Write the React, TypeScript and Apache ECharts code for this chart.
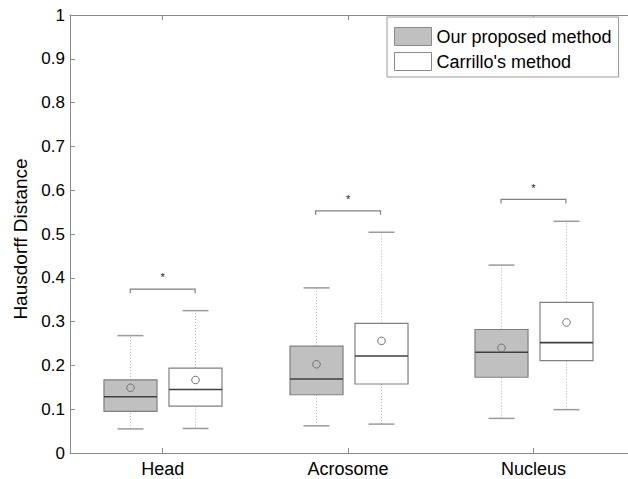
import React, { useEffect, useRef } from "react";
import * as echarts from "echarts";

const categories = ["Head", "Acrosome", "Nucleus"];
// [lower whisker, Q1, median, Q3, upper whisker]
const proposedStats = [
  [0.055, 0.095, 0.1285, 0.167, 0.268],
  [0.062, 0.133, 0.169, 0.244, 0.377],
  [0.079, 0.173, 0.23, 0.282, 0.429],
];
const proposedMean = [0.149, 0.2025, 0.24];
const carrilloStats = [
  [0.056, 0.107, 0.145, 0.194, 0.325],
  [0.066, 0.1575, 0.2215, 0.296, 0.504],
  [0.099, 0.211, 0.252, 0.344, 0.529],
];
const carrilloMean = [0.1667, 0.256, 0.298];
const bracketY = [0.374, 0.553, 0.579];
const starY = [0.409, 0.587, 0.613];
const yTicks = [0, 0.1, 0.2, 0.3, 0.4, 0.5, 0.6, 0.7, 0.8, 0.9, 1];

const seriesNames = ["Our proposed method", "Carrillo's method"];
const OFFSET = 0.175;
const BOX_W = 0.286;
const CAP_W = 0.14;
const FONT = "'Liberation Sans', Arial, Helvetica, sans-serif";

function boxRender(fill: string) {
  return (params: any, api: any) => {
    const x = api.value(0);
    const lo = api.coord([x, api.value(1)]);
    const q1 = api.coord([x, api.value(2)]);
    const md = api.coord([x, api.value(3)]);
    const q3 = api.coord([x, api.value(4)]);
    const hi = api.coord([x, api.value(5)]);
    const mn = api.coord([x, api.value(6)]);
    const halfBox = api.size([BOX_W, 0])[0] / 2;
    const halfCap = api.size([CAP_W, 0])[0] / 2;
    const cx = Math.round(lo[0]) + 0.5;
    const whiskerStyle = { stroke: "#b0b0b0", lineWidth: 1, lineDash: [1, 2] };
    const capStyle = { stroke: "#9a9a9a", lineWidth: 1.5 };
    return {
      type: "group",
      children: [
        { type: "line", shape: { x1: cx, y1: q3[1], x2: cx, y2: hi[1] }, style: whiskerStyle },
        { type: "line", shape: { x1: cx, y1: lo[1], x2: cx, y2: q1[1] }, style: whiskerStyle },
        { type: "line", shape: { x1: cx - halfCap, y1: hi[1], x2: cx + halfCap, y2: hi[1] }, style: capStyle },
        { type: "line", shape: { x1: cx - halfCap, y1: lo[1], x2: cx + halfCap, y2: lo[1] }, style: capStyle },
        {
          type: "rect",
          shape: { x: cx - halfBox, y: q3[1], width: halfBox * 2, height: q1[1] - q3[1] },
          style: { fill, stroke: "#808080", lineWidth: 1.2 },
        },
        {
          type: "line",
          shape: { x1: cx - halfBox, y1: md[1], x2: cx + halfBox, y2: md[1] },
          style: { stroke: "#404040", lineWidth: 1.6 },
        },
        {
          type: "circle",
          shape: { cx, cy: mn[1], r: 3.8 },
          style: { fill: "none", stroke: "#707070", lineWidth: 1 },
        },
      ],
    };
  };
}

function bracketRender(params: any, api: any) {
  const x = api.value(0);
  const y = api.value(1);
  const s = api.value(2);
  const a = api.coord([x - OFFSET, y]);
  const b = api.coord([x + OFFSET, y]);
  const st = api.coord([x, s]);
  return {
    type: "group",
    children: [
      {
        type: "polyline",
        shape: {
          points: [
            [a[0], a[1] + 4],
            [a[0], a[1]],
            [b[0], b[1]],
            [b[0], b[1] + 4],
          ],
        },
        style: { stroke: "#808080", lineWidth: 1.2, fill: "none" },
      },
      {
        type: "text",
        x: st[0],
        y: st[1] + 3,
        style: {
          text: "*",
          fontSize: 11,
          fontFamily: FONT,
          fill: "#222222",
          align: "center",
          verticalAlign: "middle",
        },
      },
    ],
  };
}

export default function App() {
  const ref = useRef<HTMLDivElement>(null);
  useEffect(() => {
    if (!ref.current) return;
    const chart = echarts.init(ref.current, null, { renderer: "svg" });
    const propData = proposedStats.map((s, i) => [i + 1 - OFFSET, ...s, proposedMean[i]]);
    const carData = carrilloStats.map((s, i) => [i + 1 + OFFSET, ...s, carrilloMean[i]]);
    const brData = categories.map((_, i) => [i + 1, bracketY[i], starY[i]]);
    const axisColor = "#8c8c8c";
    chart.setOption({
      animation: false,
      backgroundColor: "#fff",
      grid: { left: 70, right: 0, top: 15, bottom: 26, containLabel: false },
      legend: {
        orient: "vertical",
        left: 387,
        top: 17,
        padding: [10, 7, 6, 7],
        itemWidth: 37,
        itemHeight: 18,
        itemGap: 6,
        backgroundColor: "#fff",
        borderColor: "#9a9a9a",
        borderWidth: 1,
        borderRadius: 0,
        selectedMode: false,
        textStyle: { fontSize: 18, color: "#000", fontFamily: FONT, lineHeight: 18 },
        data: [
          { name: seriesNames[0], icon: "rect", itemStyle: { color: "#c0c0c0", borderColor: "#8a8a8a", borderWidth: 1 } },
          { name: seriesNames[1], icon: "rect", itemStyle: { color: "#ffffff", borderColor: "#8a8a8a", borderWidth: 1 } },
        ],
      },
      xAxis: [
        {
          type: "value",
          min: 0.5,
          max: 3.51,
          position: "bottom",
          splitLine: { show: false },
          axisLine: { show: true, lineStyle: { color: axisColor, width: 1 } },
          axisTick: { show: true, inside: true, length: 5, customValues: [1, 2, 3], lineStyle: { color: axisColor } },
          axisLabel: {
            customValues: [1, 2, 3],
            formatter: (v: number) => categories[Math.round(v) - 1],
            fontSize: 18,
            color: "#000",
            fontFamily: FONT,
            margin: 7,
          },
        },
        {
          type: "value",
          min: 0.5,
          max: 3.51,
          position: "top",
          splitLine: { show: false },
          axisLine: { show: true, lineStyle: { color: axisColor, width: 1 } },
          axisTick: { show: true, inside: true, length: 5, customValues: [1, 2, 3], lineStyle: { color: axisColor } },
          axisLabel: { show: false },
        },
      ],
      yAxis: {
        type: "value",
        min: 0,
        max: 1,
        interval: 0.1,
        name: "Hausdorff Distance",
        nameLocation: "middle",
        nameRotate: 90,
        nameGap: 33,
        nameTextStyle: { fontSize: 19, color: "#000", fontFamily: FONT, padding: [0, 0, 0, -10] },
        splitLine: { show: false },
        axisLine: { show: true, lineStyle: { color: axisColor, width: 1 } },
        axisTick: { show: true, inside: true, length: 5, lineStyle: { color: axisColor } },
        axisLabel: {
          customValues: yTicks,
          formatter: (v: number) => String(Math.round(v * 10) / 10),
          fontSize: 17,
          color: "#000",
          fontFamily: FONT,
          margin: 5,
        },
      },
      series: [
        {
          name: seriesNames[0],
          type: "custom",
          renderItem: boxRender("#c0c0c0"),
          encode: { x: 0, y: [1, 2, 3, 4, 5, 6] },
          data: propData,
          z: 2,
        },
        {
          name: seriesNames[1],
          type: "custom",
          renderItem: boxRender("#ffffff"),
          encode: { x: 0, y: [1, 2, 3, 4, 5, 6] },
          data: carData,
          z: 2,
        },
        {
          name: "significance",
          type: "custom",
          renderItem: bracketRender,
          encode: { x: 0, y: [1, 2] },
          data: brData,
          z: 3,
        },
      ],
    });
    return () => chart.dispose();
  }, []);
  return (
    <div
      ref={ref}
      style={{ position: "absolute", left: 0, top: 0, width: 628, height: 479 }}
    />
  );
}
